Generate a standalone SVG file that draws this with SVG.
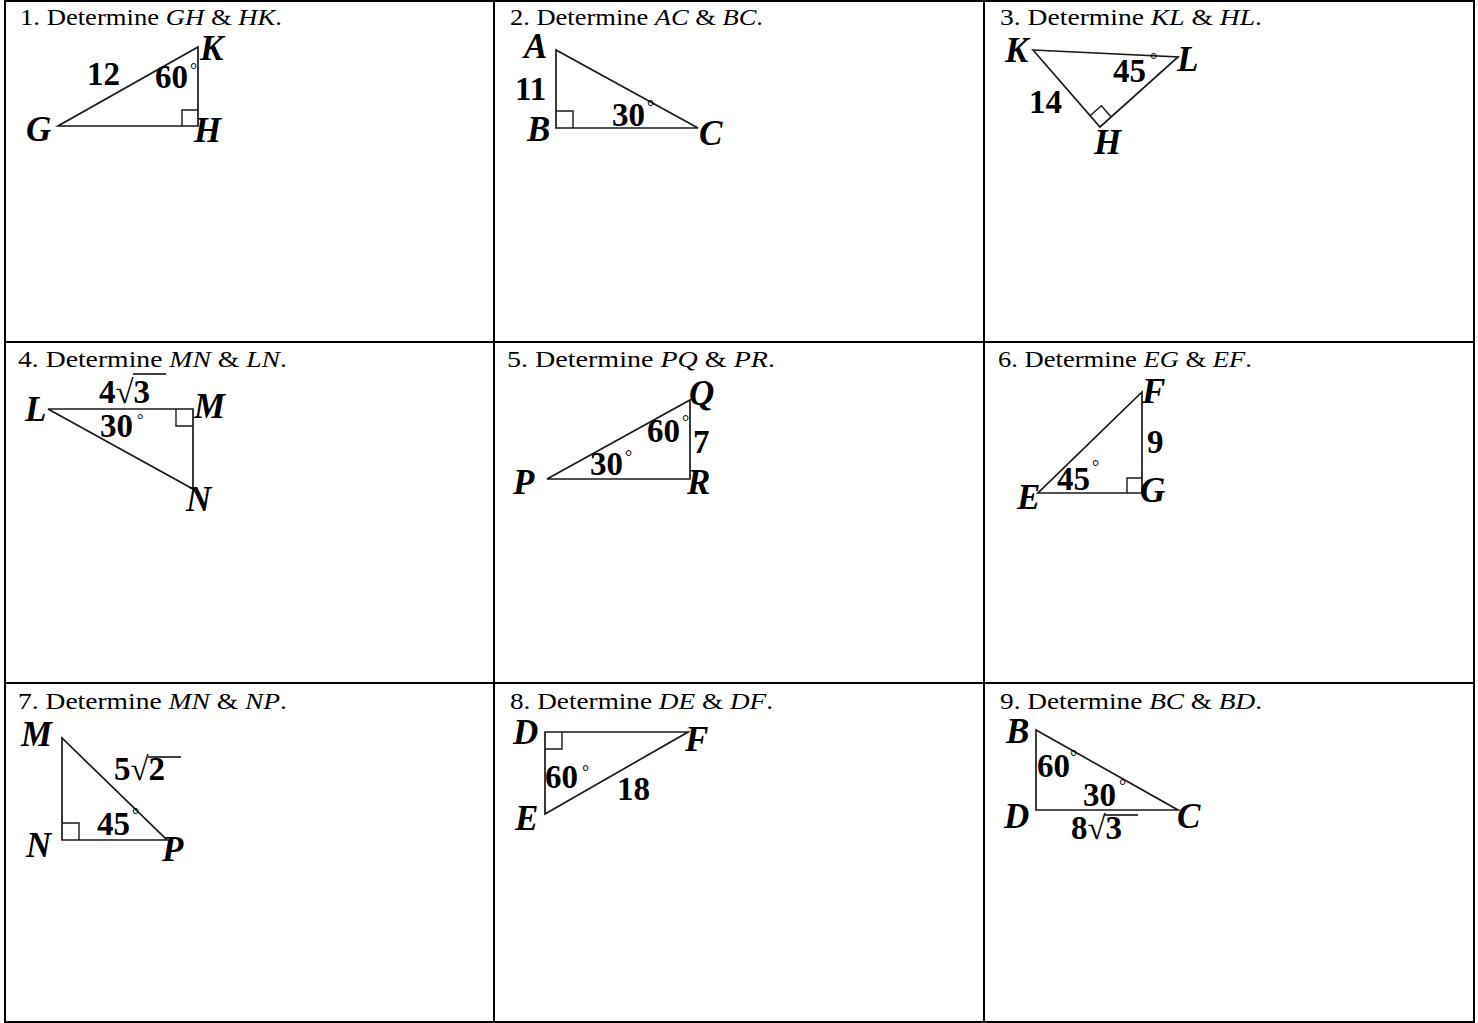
<svg xmlns="http://www.w3.org/2000/svg" width="1478" height="1023" viewBox="0 0 1478 1023">
<style>
.grid{stroke:#000;stroke-width:2;fill:none}
.tri{fill:none;stroke:#1a1a1a;stroke-width:1.7;stroke-linejoin:miter}
.box{fill:none;stroke:#1a1a1a;stroke-width:1.4}
.title{font-family:"Liberation Serif","Times New Roman",Times,serif;font-size:24px;fill:#000}
.v{font-style:italic}
.lab{font-family:"Liberation Serif","Times New Roman",Times,serif;font-weight:bold;font-style:italic;font-size:35px;fill:#000}
.num{font-family:"Liberation Serif","Times New Roman",Times,serif;font-weight:bold;font-size:33px;fill:#000}
.deg{font-family:"Liberation Serif","Times New Roman",Times,serif;font-size:18px;fill:#000}
.vin{stroke:#000;stroke-width:1.5}
</style>
<rect width="1478" height="1023" fill="#fff"/>
<g id="grid">
<line class="grid" x1="5" y1="1" x2="1474" y2="1"/>
<line class="grid" x1="5" y1="342" x2="1474" y2="342"/>
<line class="grid" x1="5" y1="683" x2="1474" y2="683"/>
<line class="grid" x1="5" y1="1022" x2="1474" y2="1022"/>
<line class="grid" x1="5" y1="0" x2="5" y2="1023"/>
<line class="grid" x1="494" y1="0" x2="494" y2="1023"/>
<line class="grid" x1="984" y1="0" x2="984" y2="1023"/>
<line class="grid" x1="1474" y1="0" x2="1474" y2="1023"/>
</g>

<g id="p1">
<text class="title" x="20" y="25" textLength="262" lengthAdjust="spacingAndGlyphs">1. Determine <tspan class="v">GH</tspan> &amp; <tspan class="v">HK</tspan>.</text>
<polygon class="tri" points="58,126 198,126 198,47"/>
<polyline class="box" points="182,126 182,110 198,110"/>
<text class="num" x="87" y="85">12</text>
<text class="num" x="155" y="88">60</text>
<text class="deg" x="190" y="76">°</text>
<text class="lab" x="200" y="60">K</text>
<text class="lab" x="26" y="141">G</text>
<text class="lab" x="194" y="142">H</text>
</g>

<g id="p2">
<text class="title" x="510" y="25" textLength="253" lengthAdjust="spacingAndGlyphs">2. Determine <tspan class="v">AC</tspan> &amp; <tspan class="v">BC</tspan>.</text>
<polygon class="tri" points="556,50 556,128 698,128"/>
<polyline class="box" points="556,111 573,111 573,128"/>
<text class="lab" x="524" y="58">A</text>
<text class="num" x="515" y="100">11</text>
<text class="lab" x="527" y="141">B</text>
<text class="num" x="612" y="126">30</text>
<text class="deg" x="647" y="113">°</text>
<text class="lab" x="699" y="145">C</text>
</g>

<g id="p3">
<text class="title" x="1000" y="25" textLength="262" lengthAdjust="spacingAndGlyphs">3.  Determine <tspan class="v">KL</tspan> &amp; <tspan class="v">HL</tspan>.</text>
<polygon class="tri" points="1033,50 1178,57 1100,127"/>
<polyline class="box" points="1090.1,115.7 1101.3,105.7 1111.2,117"/>
<text class="lab" x="1005" y="62">K</text>
<text class="lab" x="1177" y="71">L</text>
<text class="num" x="1113" y="82">45</text>
<text class="deg" x="1150" y="66">°</text>
<text class="num" x="1029" y="113">14</text>
<text class="lab" x="1094" y="154">H</text>
</g>

<g id="p4">
<text class="title" x="18" y="367" textLength="269" lengthAdjust="spacingAndGlyphs">4.  Determine <tspan class="v">MN</tspan> &amp; <tspan class="v">LN</tspan>.</text>
<polygon class="tri" points="48,409 193,409 193,489"/>
<polyline class="box" points="176,409 176,426 193,426"/>
<text class="lab" x="25" y="421">L</text>
<text class="lab" x="194" y="418">M</text>
<text class="lab" x="186" y="511">N</text>
<text class="num" x="99" y="403">4√3</text>
<line class="vin" x1="133" y1="374" x2="166" y2="374"/>
<text class="num" x="100" y="437">30</text>
<text class="deg" x="137" y="425" style="font-size:16px">°</text>
</g>

<g id="p5">
<text class="title" x="507" y="367" textLength="268" lengthAdjust="spacingAndGlyphs">5.  Determine <tspan class="v">PQ</tspan> &amp; <tspan class="v">PR</tspan>.</text>
<polygon class="tri" points="547,479 690,479 690,400"/>
<text class="lab" x="689" y="405">Q</text>
<text class="num" x="647" y="442">60</text>
<text class="deg" x="682" y="428">°</text>
<text class="num" x="693" y="453">7</text>
<text class="num" x="590" y="475">30</text>
<text class="deg" x="625" y="463">°</text>
<text class="lab" x="513" y="494">P</text>
<text class="lab" x="687" y="494">R</text>
</g>

<g id="p6">
<text class="title" x="998" y="367" textLength="254" lengthAdjust="spacingAndGlyphs">6. Determine <tspan class="v">EG</tspan> &amp; <tspan class="v">EF</tspan>.</text>
<polygon class="tri" points="1038,493 1142,493 1142,392"/>
<polyline class="box" points="1127,493 1127,478 1142,478"/>
<text class="lab" x="1142" y="403">F</text>
<text class="num" x="1147" y="453">9</text>
<text class="num" x="1057" y="490">45</text>
<text class="deg" x="1092" y="473">°</text>
<text class="lab" x="1017" y="509">E</text>
<text class="lab" x="1140" y="502">G</text>
</g>

<g id="p7">
<text class="title" x="18" y="709" textLength="269" lengthAdjust="spacingAndGlyphs">7. Determine <tspan class="v">MN</tspan> &amp; <tspan class="v">NP</tspan>.</text>
<polygon class="tri" points="62,738 62,840 167,840"/>
<polyline class="box" points="62,823 79,823 79,840"/>
<text class="lab" x="21" y="746">M</text>
<text class="num" x="114" y="780">5√2</text>
<line class="vin" x1="148" y1="757" x2="181" y2="757"/>
<text class="num" x="97" y="835">45</text>
<text class="deg" x="132" y="821">°</text>
<text class="lab" x="26" y="857">N</text>
<text class="lab" x="162" y="861">P</text>
</g>

<g id="p8">
<text class="title" x="510" y="709" textLength="263" lengthAdjust="spacingAndGlyphs">8.  Determine <tspan class="v">DE</tspan> &amp; <tspan class="v">DF</tspan>.</text>
<polygon class="tri" points="545,732 688,732 545,814"/>
<polyline class="box" points="545,749 562,749 562,732"/>
<text class="lab" x="513" y="744">D</text>
<text class="lab" x="685" y="751">F</text>
<text class="num" x="545" y="788">60</text>
<text class="deg" x="582" y="778">°</text>
<text class="num" x="617" y="800">18</text>
<text class="lab" x="515" y="830">E</text>
</g>

<g id="p9">
<text class="title" x="1000" y="709" textLength="262" lengthAdjust="spacingAndGlyphs">9.  Determine <tspan class="v">BC</tspan> &amp; <tspan class="v">BD</tspan>.</text>
<polygon class="tri" points="1036,730 1036,810 1178,810"/>
<text class="lab" x="1006" y="743">B</text>
<text class="num" x="1037" y="777">60</text>
<text class="deg" x="1070" y="763">°</text>
<text class="num" x="1083" y="806">30</text>
<text class="deg" x="1119" y="792">°</text>
<text class="lab" x="1004" y="828">D</text>
<text class="lab" x="1177" y="828">C</text>
<text class="num" x="1071" y="839">8√3</text>
<line class="vin" x1="1105" y1="815" x2="1138" y2="815"/>
</g>
</svg>
